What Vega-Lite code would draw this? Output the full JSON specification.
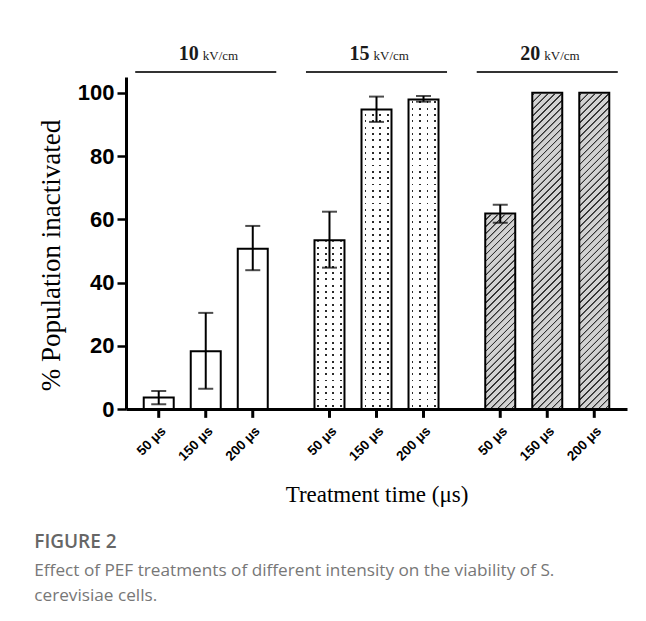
{
  "$schema": "https://vega.github.io/schema/vega-lite/v6.json",
  "width": 501,
  "height": 332,
  "padding": {"left": 34, "top": 43, "right": 5, "bottom": 5},
  "background": "white",
  "config": {"view": {"stroke": null}, "font": "Liberation Sans"},
  "title": {
    "text": "FIGURE 2",
    "subtitle": ["Effect of PEF treatments of different intensity on the viability of S.", "cerevisiae cells."],
    "orient": "bottom",
    "anchor": "start",
    "frame": "bounds",
    "offset": 27,
    "dx": -3,
    "font": "Open Sans",
    "fontSize": 19,
    "fontWeight": 600,
    "color": "#666666",
    "subtitleFont": "Open Sans",
    "subtitleFontSize": 17.2,
    "subtitleColor": "#777777",
    "subtitleLineHeight": 25,
    "subtitlePadding": 10
  },
  "datasets": {
    "bars": [
      {"group": "10", "time": "50 μs", "value": 3.6, "lo": 1.5, "hi": 5.7},
      {"group": "10", "time": "150 μs", "value": 18.3, "lo": 6.4, "hi": 30.4},
      {"group": "10", "time": "200 μs", "value": 50.7, "lo": 43.9, "hi": 57.9},
      {"group": "15", "time": "50 μs", "value": 53.4, "lo": 44.7, "hi": 62.4},
      {"group": "15", "time": "150 μs", "value": 94.7, "lo": 90.8, "hi": 98.8},
      {"group": "15", "time": "200 μs", "value": 97.9, "lo": 97.2, "hi": 99.0},
      {"group": "20", "time": "50 μs", "value": 61.8, "lo": 58.9, "hi": 64.6},
      {"group": "20", "time": "150 μs", "value": 100, "lo": null, "hi": null},
      {"group": "20", "time": "200 μs", "value": 100, "lo": null, "hi": null}
    ],
    "headers": [
      {"group": "10", "num": "10", "unit": "kV/cm"},
      {"group": "15", "num": "15", "unit": "kV/cm"},
      {"group": "20", "num": "20", "unit": "kV/cm"}
    ]
  },
  "encoding": {
    "x": {
      "field": "group",
      "type": "nominal",
      "scale": {"domain": ["10", "15", "20"], "paddingInner": 0.174, "paddingOuter": 0.054},
      "axis": {
        "labels": false,
        "ticks": false,
        "domain": true,
        "domainColor": "black",
        "domainWidth": 3,
        "title": "Treatment time (μs)",
        "titleFont": "Liberation Serif",
        "titleFontSize": 23,
        "titleFontWeight": "normal",
        "titleColor": "black",
        "titlePadding": 74
      }
    }
  },
  "layer": [
    {
      "data": {"name": "bars"},
      "transform": [{"filter": "datum.group === '20'"}],
      "mark": {
        "type": "bar",
        "strokeWidth": 0,
        "fill": {
          "gradient": "linear",
          "x1": 0, "y1": 0, "x2": 0.103, "y2": 1.085,
          "stops": [
            {"offset":0.005,"color":"#d2d2d2"},{"offset":0.0065,"color":"#333333"},{"offset":0.0095,"color":"#333333"},{"offset":0.011,"color":"#d2d2d2"},
            {"offset":0.025,"color":"#d2d2d2"},{"offset":0.0265,"color":"#333333"},{"offset":0.0295,"color":"#333333"},{"offset":0.031,"color":"#d2d2d2"},
            {"offset":0.045,"color":"#d2d2d2"},{"offset":0.0465,"color":"#333333"},{"offset":0.0495,"color":"#333333"},{"offset":0.051,"color":"#d2d2d2"},
            {"offset":0.065,"color":"#d2d2d2"},{"offset":0.0665,"color":"#333333"},{"offset":0.0695,"color":"#333333"},{"offset":0.071,"color":"#d2d2d2"},
            {"offset":0.085,"color":"#d2d2d2"},{"offset":0.0865,"color":"#333333"},{"offset":0.0895,"color":"#333333"},{"offset":0.091,"color":"#d2d2d2"},
            {"offset":0.105,"color":"#d2d2d2"},{"offset":0.1065,"color":"#333333"},{"offset":0.1095,"color":"#333333"},{"offset":0.111,"color":"#d2d2d2"},
            {"offset":0.125,"color":"#d2d2d2"},{"offset":0.1265,"color":"#333333"},{"offset":0.1295,"color":"#333333"},{"offset":0.131,"color":"#d2d2d2"},
            {"offset":0.145,"color":"#d2d2d2"},{"offset":0.1465,"color":"#333333"},{"offset":0.1495,"color":"#333333"},{"offset":0.151,"color":"#d2d2d2"},
            {"offset":0.165,"color":"#d2d2d2"},{"offset":0.1665,"color":"#333333"},{"offset":0.1695,"color":"#333333"},{"offset":0.171,"color":"#d2d2d2"},
            {"offset":0.185,"color":"#d2d2d2"},{"offset":0.1865,"color":"#333333"},{"offset":0.1895,"color":"#333333"},{"offset":0.191,"color":"#d2d2d2"},
            {"offset":0.205,"color":"#d2d2d2"},{"offset":0.2065,"color":"#333333"},{"offset":0.2095,"color":"#333333"},{"offset":0.211,"color":"#d2d2d2"},
            {"offset":0.225,"color":"#d2d2d2"},{"offset":0.2265,"color":"#333333"},{"offset":0.2295,"color":"#333333"},{"offset":0.231,"color":"#d2d2d2"},
            {"offset":0.245,"color":"#d2d2d2"},{"offset":0.2465,"color":"#333333"},{"offset":0.2495,"color":"#333333"},{"offset":0.251,"color":"#d2d2d2"},
            {"offset":0.265,"color":"#d2d2d2"},{"offset":0.2665,"color":"#333333"},{"offset":0.2695,"color":"#333333"},{"offset":0.271,"color":"#d2d2d2"},
            {"offset":0.285,"color":"#d2d2d2"},{"offset":0.2865,"color":"#333333"},{"offset":0.2895,"color":"#333333"},{"offset":0.291,"color":"#d2d2d2"},
            {"offset":0.305,"color":"#d2d2d2"},{"offset":0.3065,"color":"#333333"},{"offset":0.3095,"color":"#333333"},{"offset":0.311,"color":"#d2d2d2"},
            {"offset":0.325,"color":"#d2d2d2"},{"offset":0.3265,"color":"#333333"},{"offset":0.3295,"color":"#333333"},{"offset":0.331,"color":"#d2d2d2"},
            {"offset":0.345,"color":"#d2d2d2"},{"offset":0.3465,"color":"#333333"},{"offset":0.3495,"color":"#333333"},{"offset":0.351,"color":"#d2d2d2"},
            {"offset":0.365,"color":"#d2d2d2"},{"offset":0.3665,"color":"#333333"},{"offset":0.3695,"color":"#333333"},{"offset":0.371,"color":"#d2d2d2"},
            {"offset":0.385,"color":"#d2d2d2"},{"offset":0.3865,"color":"#333333"},{"offset":0.3895,"color":"#333333"},{"offset":0.391,"color":"#d2d2d2"},
            {"offset":0.405,"color":"#d2d2d2"},{"offset":0.4065,"color":"#333333"},{"offset":0.4095,"color":"#333333"},{"offset":0.411,"color":"#d2d2d2"},
            {"offset":0.425,"color":"#d2d2d2"},{"offset":0.4265,"color":"#333333"},{"offset":0.4295,"color":"#333333"},{"offset":0.431,"color":"#d2d2d2"},
            {"offset":0.445,"color":"#d2d2d2"},{"offset":0.4465,"color":"#333333"},{"offset":0.4495,"color":"#333333"},{"offset":0.451,"color":"#d2d2d2"},
            {"offset":0.465,"color":"#d2d2d2"},{"offset":0.4665,"color":"#333333"},{"offset":0.4695,"color":"#333333"},{"offset":0.471,"color":"#d2d2d2"},
            {"offset":0.485,"color":"#d2d2d2"},{"offset":0.4865,"color":"#333333"},{"offset":0.4895,"color":"#333333"},{"offset":0.491,"color":"#d2d2d2"},
            {"offset":0.505,"color":"#d2d2d2"},{"offset":0.5065,"color":"#333333"},{"offset":0.5095,"color":"#333333"},{"offset":0.511,"color":"#d2d2d2"},
            {"offset":0.525,"color":"#d2d2d2"},{"offset":0.5265,"color":"#333333"},{"offset":0.5295,"color":"#333333"},{"offset":0.531,"color":"#d2d2d2"},
            {"offset":0.545,"color":"#d2d2d2"},{"offset":0.5465,"color":"#333333"},{"offset":0.5495,"color":"#333333"},{"offset":0.551,"color":"#d2d2d2"},
            {"offset":0.565,"color":"#d2d2d2"},{"offset":0.5665,"color":"#333333"},{"offset":0.5695,"color":"#333333"},{"offset":0.571,"color":"#d2d2d2"},
            {"offset":0.585,"color":"#d2d2d2"},{"offset":0.5865,"color":"#333333"},{"offset":0.5895,"color":"#333333"},{"offset":0.591,"color":"#d2d2d2"},
            {"offset":0.605,"color":"#d2d2d2"},{"offset":0.6065,"color":"#333333"},{"offset":0.6095,"color":"#333333"},{"offset":0.611,"color":"#d2d2d2"},
            {"offset":0.625,"color":"#d2d2d2"},{"offset":0.6265,"color":"#333333"},{"offset":0.6295,"color":"#333333"},{"offset":0.631,"color":"#d2d2d2"},
            {"offset":0.645,"color":"#d2d2d2"},{"offset":0.6465,"color":"#333333"},{"offset":0.6495,"color":"#333333"},{"offset":0.651,"color":"#d2d2d2"},
            {"offset":0.665,"color":"#d2d2d2"},{"offset":0.6665,"color":"#333333"},{"offset":0.6695,"color":"#333333"},{"offset":0.671,"color":"#d2d2d2"},
            {"offset":0.685,"color":"#d2d2d2"},{"offset":0.6865,"color":"#333333"},{"offset":0.6895,"color":"#333333"},{"offset":0.691,"color":"#d2d2d2"},
            {"offset":0.705,"color":"#d2d2d2"},{"offset":0.7065,"color":"#333333"},{"offset":0.7095,"color":"#333333"},{"offset":0.711,"color":"#d2d2d2"},
            {"offset":0.725,"color":"#d2d2d2"},{"offset":0.7265,"color":"#333333"},{"offset":0.7295,"color":"#333333"},{"offset":0.731,"color":"#d2d2d2"},
            {"offset":0.745,"color":"#d2d2d2"},{"offset":0.7465,"color":"#333333"},{"offset":0.7495,"color":"#333333"},{"offset":0.751,"color":"#d2d2d2"},
            {"offset":0.765,"color":"#d2d2d2"},{"offset":0.7665,"color":"#333333"},{"offset":0.7695,"color":"#333333"},{"offset":0.771,"color":"#d2d2d2"},
            {"offset":0.785,"color":"#d2d2d2"},{"offset":0.7865,"color":"#333333"},{"offset":0.7895,"color":"#333333"},{"offset":0.791,"color":"#d2d2d2"},
            {"offset":0.805,"color":"#d2d2d2"},{"offset":0.8065,"color":"#333333"},{"offset":0.8095,"color":"#333333"},{"offset":0.811,"color":"#d2d2d2"},
            {"offset":0.825,"color":"#d2d2d2"},{"offset":0.8265,"color":"#333333"},{"offset":0.8295,"color":"#333333"},{"offset":0.831,"color":"#d2d2d2"},
            {"offset":0.845,"color":"#d2d2d2"},{"offset":0.8465,"color":"#333333"},{"offset":0.8495,"color":"#333333"},{"offset":0.851,"color":"#d2d2d2"},
            {"offset":0.865,"color":"#d2d2d2"},{"offset":0.8665,"color":"#333333"},{"offset":0.8695,"color":"#333333"},{"offset":0.871,"color":"#d2d2d2"},
            {"offset":0.885,"color":"#d2d2d2"},{"offset":0.8865,"color":"#333333"},{"offset":0.8895,"color":"#333333"},{"offset":0.891,"color":"#d2d2d2"},
            {"offset":0.905,"color":"#d2d2d2"},{"offset":0.9065,"color":"#333333"},{"offset":0.9095,"color":"#333333"},{"offset":0.911,"color":"#d2d2d2"},
            {"offset":0.925,"color":"#d2d2d2"},{"offset":0.9265,"color":"#333333"},{"offset":0.9295,"color":"#333333"},{"offset":0.931,"color":"#d2d2d2"},
            {"offset":0.945,"color":"#d2d2d2"},{"offset":0.9465,"color":"#333333"},{"offset":0.9495,"color":"#333333"},{"offset":0.951,"color":"#d2d2d2"},
            {"offset":0.965,"color":"#d2d2d2"},{"offset":0.9665,"color":"#333333"},{"offset":0.9695,"color":"#333333"},{"offset":0.971,"color":"#d2d2d2"},
            {"offset":0.985,"color":"#d2d2d2"},{"offset":0.9865,"color":"#333333"},{"offset":0.9895,"color":"#333333"},{"offset":0.991,"color":"#d2d2d2"}
          ]
        }
      },
      "encoding": {
        "xOffset": {"field": "time", "type": "nominal", "scale": {"domain": ["50 μs", "150 μs", "200 μs"], "paddingInner": 0.362, "paddingOuter": 0.181}},
        "y": {
          "datum": 100,
          "type": "quantitative",
          "scale": {"domain": [0, 105], "nice": false},
          "axis": {
            "values": [0, 20, 40, 60, 80, 100],
            "grid": false,
            "domainColor": "black",
            "domainWidth": 3,
            "tickColor": "black",
            "tickWidth": 2.5,
            "tickSize": 9,
            "labelFont": "Liberation Sans",
            "labelFontWeight": "bold",
            "labelFontSize": 22,
            "labelColor": "black",
            "labelPadding": 3,
            "title": "% Population inactivated",
            "titleFont": "Liberation Serif",
            "titleFontSize": 27,
            "titleFontWeight": "normal",
            "titleColor": "black",
            "titlePadding": 12,
            "titleY": 178
          }
        },
        "y2": {"datum": 0}
      }
    },
    {
      "data": {"name": "bars"},
      "transform": [{"filter": "datum.group === '15'"}],
      "mark": {
        "type": "bar",
        "strokeWidth": 0,
        "fill": {
          "gradient": "linear",
          "x1": 0, "y1": 0, "x2": 1, "y2": 0,
          "stops": [
            {"offset":0,"color":"#ffffff"},{"offset":0.10,"color":"#ffffff"},{"offset":0.10,"color":"#2a2a2a"},{"offset":0.16,"color":"#2a2a2a"},{"offset":0.16,"color":"#ffffff"},
            {"offset":0.35,"color":"#ffffff"},{"offset":0.35,"color":"#2a2a2a"},{"offset":0.41,"color":"#2a2a2a"},{"offset":0.41,"color":"#ffffff"},
            {"offset":0.60,"color":"#ffffff"},{"offset":0.60,"color":"#2a2a2a"},{"offset":0.66,"color":"#2a2a2a"},{"offset":0.66,"color":"#ffffff"},
            {"offset":0.85,"color":"#ffffff"},{"offset":0.85,"color":"#2a2a2a"},{"offset":0.91,"color":"#2a2a2a"},{"offset":0.91,"color":"#ffffff"},
            {"offset":1,"color":"#ffffff"}
          ]
        }
      },
      "encoding": {
        "xOffset": {"field": "time", "type": "nominal", "scale": {"domain": ["50 μs", "150 μs", "200 μs"], "paddingInner": 0.362, "paddingOuter": 0.181}},
        "y": {"datum": 100, "type": "quantitative", "scale": {"domain": [0, 105], "nice": false}},
        "y2": {"datum": 0}
      }
    },
    {
      "data": {"name": "bars"},
      "transform": [{"filter": "datum.group === '15'"}],
      "mark": {
        "type": "bar",
        "strokeWidth": 0,
        "fill": {
          "gradient": "linear",
          "x1": 0, "y1": 0, "x2": 0, "y2": 1,
          "stops": [
            {"offset":0.007,"color":"#ffffff"},{"offset":0.007,"color":"rgba(255,255,255,0)"},{"offset":0.013,"color":"rgba(255,255,255,0)"},{"offset":0.013,"color":"#ffffff"},
            {"offset":0.027,"color":"#ffffff"},{"offset":0.027,"color":"rgba(255,255,255,0)"},{"offset":0.033,"color":"rgba(255,255,255,0)"},{"offset":0.033,"color":"#ffffff"},
            {"offset":0.047,"color":"#ffffff"},{"offset":0.047,"color":"rgba(255,255,255,0)"},{"offset":0.053,"color":"rgba(255,255,255,0)"},{"offset":0.053,"color":"#ffffff"},
            {"offset":0.067,"color":"#ffffff"},{"offset":0.067,"color":"rgba(255,255,255,0)"},{"offset":0.073,"color":"rgba(255,255,255,0)"},{"offset":0.073,"color":"#ffffff"},
            {"offset":0.087,"color":"#ffffff"},{"offset":0.087,"color":"rgba(255,255,255,0)"},{"offset":0.093,"color":"rgba(255,255,255,0)"},{"offset":0.093,"color":"#ffffff"},
            {"offset":0.107,"color":"#ffffff"},{"offset":0.107,"color":"rgba(255,255,255,0)"},{"offset":0.113,"color":"rgba(255,255,255,0)"},{"offset":0.113,"color":"#ffffff"},
            {"offset":0.127,"color":"#ffffff"},{"offset":0.127,"color":"rgba(255,255,255,0)"},{"offset":0.133,"color":"rgba(255,255,255,0)"},{"offset":0.133,"color":"#ffffff"},
            {"offset":0.147,"color":"#ffffff"},{"offset":0.147,"color":"rgba(255,255,255,0)"},{"offset":0.153,"color":"rgba(255,255,255,0)"},{"offset":0.153,"color":"#ffffff"},
            {"offset":0.167,"color":"#ffffff"},{"offset":0.167,"color":"rgba(255,255,255,0)"},{"offset":0.173,"color":"rgba(255,255,255,0)"},{"offset":0.173,"color":"#ffffff"},
            {"offset":0.187,"color":"#ffffff"},{"offset":0.187,"color":"rgba(255,255,255,0)"},{"offset":0.193,"color":"rgba(255,255,255,0)"},{"offset":0.193,"color":"#ffffff"},
            {"offset":0.207,"color":"#ffffff"},{"offset":0.207,"color":"rgba(255,255,255,0)"},{"offset":0.213,"color":"rgba(255,255,255,0)"},{"offset":0.213,"color":"#ffffff"},
            {"offset":0.227,"color":"#ffffff"},{"offset":0.227,"color":"rgba(255,255,255,0)"},{"offset":0.233,"color":"rgba(255,255,255,0)"},{"offset":0.233,"color":"#ffffff"},
            {"offset":0.247,"color":"#ffffff"},{"offset":0.247,"color":"rgba(255,255,255,0)"},{"offset":0.253,"color":"rgba(255,255,255,0)"},{"offset":0.253,"color":"#ffffff"},
            {"offset":0.267,"color":"#ffffff"},{"offset":0.267,"color":"rgba(255,255,255,0)"},{"offset":0.273,"color":"rgba(255,255,255,0)"},{"offset":0.273,"color":"#ffffff"},
            {"offset":0.287,"color":"#ffffff"},{"offset":0.287,"color":"rgba(255,255,255,0)"},{"offset":0.293,"color":"rgba(255,255,255,0)"},{"offset":0.293,"color":"#ffffff"},
            {"offset":0.307,"color":"#ffffff"},{"offset":0.307,"color":"rgba(255,255,255,0)"},{"offset":0.313,"color":"rgba(255,255,255,0)"},{"offset":0.313,"color":"#ffffff"},
            {"offset":0.327,"color":"#ffffff"},{"offset":0.327,"color":"rgba(255,255,255,0)"},{"offset":0.333,"color":"rgba(255,255,255,0)"},{"offset":0.333,"color":"#ffffff"},
            {"offset":0.347,"color":"#ffffff"},{"offset":0.347,"color":"rgba(255,255,255,0)"},{"offset":0.353,"color":"rgba(255,255,255,0)"},{"offset":0.353,"color":"#ffffff"},
            {"offset":0.367,"color":"#ffffff"},{"offset":0.367,"color":"rgba(255,255,255,0)"},{"offset":0.373,"color":"rgba(255,255,255,0)"},{"offset":0.373,"color":"#ffffff"},
            {"offset":0.387,"color":"#ffffff"},{"offset":0.387,"color":"rgba(255,255,255,0)"},{"offset":0.393,"color":"rgba(255,255,255,0)"},{"offset":0.393,"color":"#ffffff"},
            {"offset":0.407,"color":"#ffffff"},{"offset":0.407,"color":"rgba(255,255,255,0)"},{"offset":0.413,"color":"rgba(255,255,255,0)"},{"offset":0.413,"color":"#ffffff"},
            {"offset":0.427,"color":"#ffffff"},{"offset":0.427,"color":"rgba(255,255,255,0)"},{"offset":0.433,"color":"rgba(255,255,255,0)"},{"offset":0.433,"color":"#ffffff"},
            {"offset":0.447,"color":"#ffffff"},{"offset":0.447,"color":"rgba(255,255,255,0)"},{"offset":0.453,"color":"rgba(255,255,255,0)"},{"offset":0.453,"color":"#ffffff"},
            {"offset":0.467,"color":"#ffffff"},{"offset":0.467,"color":"rgba(255,255,255,0)"},{"offset":0.473,"color":"rgba(255,255,255,0)"},{"offset":0.473,"color":"#ffffff"},
            {"offset":0.487,"color":"#ffffff"},{"offset":0.487,"color":"rgba(255,255,255,0)"},{"offset":0.493,"color":"rgba(255,255,255,0)"},{"offset":0.493,"color":"#ffffff"},
            {"offset":0.507,"color":"#ffffff"},{"offset":0.507,"color":"rgba(255,255,255,0)"},{"offset":0.513,"color":"rgba(255,255,255,0)"},{"offset":0.513,"color":"#ffffff"},
            {"offset":0.527,"color":"#ffffff"},{"offset":0.527,"color":"rgba(255,255,255,0)"},{"offset":0.533,"color":"rgba(255,255,255,0)"},{"offset":0.533,"color":"#ffffff"},
            {"offset":0.547,"color":"#ffffff"},{"offset":0.547,"color":"rgba(255,255,255,0)"},{"offset":0.553,"color":"rgba(255,255,255,0)"},{"offset":0.553,"color":"#ffffff"},
            {"offset":0.567,"color":"#ffffff"},{"offset":0.567,"color":"rgba(255,255,255,0)"},{"offset":0.573,"color":"rgba(255,255,255,0)"},{"offset":0.573,"color":"#ffffff"},
            {"offset":0.587,"color":"#ffffff"},{"offset":0.587,"color":"rgba(255,255,255,0)"},{"offset":0.593,"color":"rgba(255,255,255,0)"},{"offset":0.593,"color":"#ffffff"},
            {"offset":0.607,"color":"#ffffff"},{"offset":0.607,"color":"rgba(255,255,255,0)"},{"offset":0.613,"color":"rgba(255,255,255,0)"},{"offset":0.613,"color":"#ffffff"},
            {"offset":0.627,"color":"#ffffff"},{"offset":0.627,"color":"rgba(255,255,255,0)"},{"offset":0.633,"color":"rgba(255,255,255,0)"},{"offset":0.633,"color":"#ffffff"},
            {"offset":0.647,"color":"#ffffff"},{"offset":0.647,"color":"rgba(255,255,255,0)"},{"offset":0.653,"color":"rgba(255,255,255,0)"},{"offset":0.653,"color":"#ffffff"},
            {"offset":0.667,"color":"#ffffff"},{"offset":0.667,"color":"rgba(255,255,255,0)"},{"offset":0.673,"color":"rgba(255,255,255,0)"},{"offset":0.673,"color":"#ffffff"},
            {"offset":0.687,"color":"#ffffff"},{"offset":0.687,"color":"rgba(255,255,255,0)"},{"offset":0.693,"color":"rgba(255,255,255,0)"},{"offset":0.693,"color":"#ffffff"},
            {"offset":0.707,"color":"#ffffff"},{"offset":0.707,"color":"rgba(255,255,255,0)"},{"offset":0.713,"color":"rgba(255,255,255,0)"},{"offset":0.713,"color":"#ffffff"},
            {"offset":0.727,"color":"#ffffff"},{"offset":0.727,"color":"rgba(255,255,255,0)"},{"offset":0.733,"color":"rgba(255,255,255,0)"},{"offset":0.733,"color":"#ffffff"},
            {"offset":0.747,"color":"#ffffff"},{"offset":0.747,"color":"rgba(255,255,255,0)"},{"offset":0.753,"color":"rgba(255,255,255,0)"},{"offset":0.753,"color":"#ffffff"},
            {"offset":0.767,"color":"#ffffff"},{"offset":0.767,"color":"rgba(255,255,255,0)"},{"offset":0.773,"color":"rgba(255,255,255,0)"},{"offset":0.773,"color":"#ffffff"},
            {"offset":0.787,"color":"#ffffff"},{"offset":0.787,"color":"rgba(255,255,255,0)"},{"offset":0.793,"color":"rgba(255,255,255,0)"},{"offset":0.793,"color":"#ffffff"},
            {"offset":0.807,"color":"#ffffff"},{"offset":0.807,"color":"rgba(255,255,255,0)"},{"offset":0.813,"color":"rgba(255,255,255,0)"},{"offset":0.813,"color":"#ffffff"},
            {"offset":0.827,"color":"#ffffff"},{"offset":0.827,"color":"rgba(255,255,255,0)"},{"offset":0.833,"color":"rgba(255,255,255,0)"},{"offset":0.833,"color":"#ffffff"},
            {"offset":0.847,"color":"#ffffff"},{"offset":0.847,"color":"rgba(255,255,255,0)"},{"offset":0.853,"color":"rgba(255,255,255,0)"},{"offset":0.853,"color":"#ffffff"},
            {"offset":0.867,"color":"#ffffff"},{"offset":0.867,"color":"rgba(255,255,255,0)"},{"offset":0.873,"color":"rgba(255,255,255,0)"},{"offset":0.873,"color":"#ffffff"},
            {"offset":0.887,"color":"#ffffff"},{"offset":0.887,"color":"rgba(255,255,255,0)"},{"offset":0.893,"color":"rgba(255,255,255,0)"},{"offset":0.893,"color":"#ffffff"},
            {"offset":0.907,"color":"#ffffff"},{"offset":0.907,"color":"rgba(255,255,255,0)"},{"offset":0.913,"color":"rgba(255,255,255,0)"},{"offset":0.913,"color":"#ffffff"},
            {"offset":0.927,"color":"#ffffff"},{"offset":0.927,"color":"rgba(255,255,255,0)"},{"offset":0.933,"color":"rgba(255,255,255,0)"},{"offset":0.933,"color":"#ffffff"},
            {"offset":0.947,"color":"#ffffff"},{"offset":0.947,"color":"rgba(255,255,255,0)"},{"offset":0.953,"color":"rgba(255,255,255,0)"},{"offset":0.953,"color":"#ffffff"},
            {"offset":0.967,"color":"#ffffff"},{"offset":0.967,"color":"rgba(255,255,255,0)"},{"offset":0.973,"color":"rgba(255,255,255,0)"},{"offset":0.973,"color":"#ffffff"},
            {"offset":0.987,"color":"#ffffff"},{"offset":0.987,"color":"rgba(255,255,255,0)"},{"offset":0.993,"color":"rgba(255,255,255,0)"},{"offset":0.993,"color":"#ffffff"}
          ]
        }
      },
      "encoding": {
        "xOffset": {"field": "time", "type": "nominal", "scale": {"domain": ["50 μs", "150 μs", "200 μs"], "paddingInner": 0.362, "paddingOuter": 0.181}},
        "y": {"datum": 100, "type": "quantitative", "scale": {"domain": [0, 105], "nice": false}},
        "y2": {"datum": 0}
      }
    },
    {
      "data": {"name": "bars"},
      "transform": [{"filter": "datum.group !== '10'"}],
      "mark": {"type": "bar", "fill": "white", "stroke": "white", "strokeWidth": 2},
      "encoding": {
        "xOffset": {"field": "time", "type": "nominal", "scale": {"domain": ["50 μs", "150 μs", "200 μs"], "paddingInner": 0.362, "paddingOuter": 0.181}},
        "y": {"field": "value", "type": "quantitative", "stack": null, "title": "% Population inactivated", "scale": {"domain": [0, 105], "nice": false}},
        "y2": {"datum": 100.6}
      }
    },
    {
      "data": {"name": "bars"},
      "mark": {"type": "bar", "fillOpacity": 0, "stroke": "black", "strokeWidth": 2},
      "encoding": {
        "xOffset": {"field": "time", "type": "nominal", "scale": {"domain": ["50 μs", "150 μs", "200 μs"], "paddingInner": 0.362, "paddingOuter": 0.181}},
        "y": {"field": "value", "type": "quantitative", "stack": null, "title": "% Population inactivated", "scale": {"domain": [0, 105], "nice": false}}
      }
    },
    {
      "data": {"name": "bars"},
      "transform": [{"filter": "datum.hi != null"}],
      "mark": {"type": "rule", "color": "black", "strokeWidth": 2},
      "encoding": {
        "xOffset": {"field": "time", "type": "nominal", "scale": {"domain": ["50 μs", "150 μs", "200 μs"], "paddingInner": 0.362, "paddingOuter": 0.181}},
        "y": {"field": "lo", "type": "quantitative", "title": "% Population inactivated", "scale": {"domain": [0, 105], "nice": false}},
        "y2": {"field": "hi"}
      }
    },
    {
      "data": {"name": "bars"},
      "transform": [{"filter": "datum.hi != null"}],
      "mark": {"type": "tick", "color": "black", "thickness": 2, "size": 15},
      "encoding": {
        "xOffset": {"field": "time", "type": "nominal", "scale": {"domain": ["50 μs", "150 μs", "200 μs"], "paddingInner": 0.362, "paddingOuter": 0.181}},
        "y": {"field": "hi", "type": "quantitative", "title": "% Population inactivated", "scale": {"domain": [0, 105], "nice": false}}
      }
    },
    {
      "data": {"name": "bars"},
      "transform": [{"filter": "datum.hi != null"}],
      "mark": {"type": "tick", "color": "black", "thickness": 2, "size": 15},
      "encoding": {
        "xOffset": {"field": "time", "type": "nominal", "scale": {"domain": ["50 μs", "150 μs", "200 μs"], "paddingInner": 0.362, "paddingOuter": 0.181}},
        "y": {"field": "lo", "type": "quantitative", "title": "% Population inactivated", "scale": {"domain": [0, 105], "nice": false}}
      }
    },
    {
      "data": {"name": "bars"},
      "mark": {"type": "rule", "color": "black", "strokeWidth": 3},
      "encoding": {
        "xOffset": {"field": "time", "type": "nominal", "scale": {"domain": ["50 μs", "150 μs", "200 μs"], "paddingInner": 0.362, "paddingOuter": 0.181}},
        "y": {"datum": 0, "type": "quantitative", "scale": {"domain": [0, 105], "nice": false}},
        "y2": {"datum": -2.8}
      }
    },
    {
      "data": {"name": "bars"},
      "mark": {"type": "text", "angle": -45, "align": "right", "baseline": "middle", "dx": -10.6, "dy": 17.7, "font": "Liberation Sans", "fontWeight": "bold", "fontSize": 13.5, "color": "black"},
      "encoding": {
        "xOffset": {"field": "time", "type": "nominal", "scale": {"domain": ["50 μs", "150 μs", "200 μs"], "paddingInner": 0.362, "paddingOuter": 0.181}},
        "y": {"datum": 0, "type": "quantitative", "scale": {"domain": [0, 105], "nice": false}},
        "text": {"field": "time"}
      }
    },
    {
      "data": {"name": "headers"},
      "mark": {"type": "bar", "color": "#333333"},
      "encoding": {
        "y": {"datum": 106.3, "type": "quantitative", "scale": {"domain": [0, 105], "nice": false}},
        "y2": {"datum": 106.9}
      }
    },
    {
      "data": {"name": "headers"},
      "mark": {"type": "text", "align": "right", "baseline": "alphabetic", "dx": -7, "font": "Liberation Serif", "fontWeight": "bold", "fontSize": 20, "color": "#1a1a1a"},
      "encoding": {
        "y": {"datum": 110.4, "type": "quantitative", "scale": {"domain": [0, 105], "nice": false}},
        "text": {"field": "num"}
      }
    },
    {
      "data": {"name": "headers"},
      "mark": {"type": "text", "align": "left", "baseline": "alphabetic", "dx": -3, "font": "Liberation Serif", "fontSize": 13, "color": "#1a1a1a"},
      "encoding": {
        "y": {"datum": 110.4, "type": "quantitative", "scale": {"domain": [0, 105], "nice": false}},
        "text": {"field": "unit"}
      }
    }
  ]
}
